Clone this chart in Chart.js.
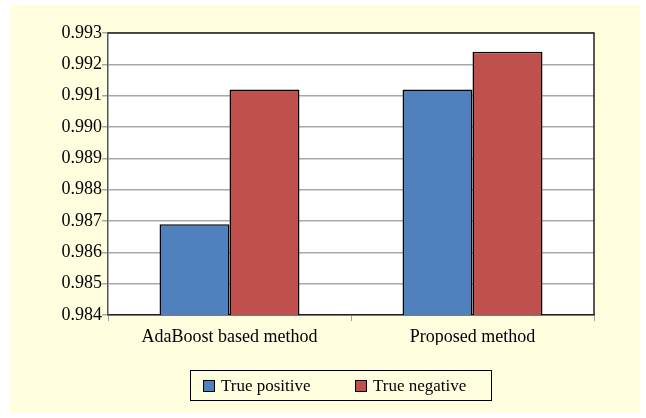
<!DOCTYPE html>
<html>
<head>
<meta charset="UTF-8">
<title>True positive and True negative</title>
<style>
    body { margin: 0; background: #fff; font-family: "Liberation Serif", serif; }
    .wrap { position: relative; width: 646px; height: 418px; }
    .legend {
        position: absolute; left: 190px; top: 370px; width: 302px; height: 31px;
        border: 1px solid #000; box-sizing: border-box;
        font-family: "Liberation Serif", serif; font-size: 17px; color: #000;
    }
    .legend span.item { position: absolute; top: 5px; white-space: nowrap; }
    .legend i {
        display: inline-block; width: 10px; height: 10px; border: 1px solid #000;
        margin-right: 6px; vertical-align: -1px;
    }
</style>
<script src="https://cdn.jsdelivr.net/npm/chart.js"></script>
</head>
<body>
<div class="wrap">
    <canvas id="c" width="646" height="418"></canvas>
    <div class="legend" id="legend"></div>
</div>
<script>
    // data
    const categories = ['AdaBoost based method', 'Proposed method'];
    const truePositive = [0.9869, 0.9912];
    const trueNegative = [0.9912, 0.9924];
    const yMin = 0.984, yMax = 0.993, yStep = 0.001;

    const serif = '"Liberation Serif", serif';
    Chart.defaults.font.family = serif;

    // yellow panel + plot frame
    const decor = {
        id: 'decor',
        beforeDraw(chart) {
            const ctx = chart.ctx;
            ctx.save();
            ctx.fillStyle = '#ffffe0';
            ctx.fillRect(10, 5, 630, 408);
            const a = chart.chartArea;
            ctx.fillStyle = '#fff';
            ctx.fillRect(a.left, a.top, a.right - a.left, a.bottom - a.top);
            ctx.restore();
        },
        afterDraw(chart) {
            const ctx = chart.ctx;
            const a = chart.chartArea;
            ctx.save();
            ctx.strokeStyle = '#222';
            ctx.lineWidth = 1.5;
            ctx.beginPath();
            ctx.moveTo(a.left, a.top);
            ctx.lineTo(a.right, a.top);
            ctx.lineTo(a.right, a.bottom);
            ctx.stroke();
            ctx.restore();
        }
    };

    const chart = new Chart(document.getElementById('c'), {
        type: 'bar',
        data: {
            labels: categories,
            datasets: [
                { label: 'True positive', data: truePositive, backgroundColor: '#4f81bd',
                  borderColor: '#000', borderWidth: 1.5, borderSkipped: false },
                { label: 'True negative', data: trueNegative, backgroundColor: '#c0504d',
                  borderColor: '#000', borderWidth: 1.5, borderSkipped: false }
            ]
        },
        options: {
            responsive: false,
            animation: false,
            layout: { padding: { top: 33, right: 52, bottom: 73, left: 0 } },
            datasets: { bar: { barPercentage: 1, categoryPercentage: 0.576 } },
            plugins: {
                tooltip: { enabled: false },
                legend: { display: false }
            },
            scales: {
                x: {
                    grid: { offset: true, drawOnChartArea: false, tickLength: 6, color: '#a0a0a0' },
                    border: { color: '#222', width: 1.5 },
                    ticks: { font: { family: serif, size: 18 }, color: '#000', padding: 5 },
                    afterFit(s) { s.height = 30; }
                },
                y: {
                    min: yMin, max: yMax,
                    grid: { color: '#a8a8a8', lineWidth: 1.5, tickLength: 6 },
                    border: { color: '#555', width: 1.5 },
                    ticks: {
                        stepSize: yStep,
                        font: { family: serif, size: 18 },
                        color: '#000',
                        padding: 0,
                        callback: v => v.toFixed(3)
                    },
                    afterFit(s) { s.width = 108; }
                }
            }
        },
        plugins: [decor]
    });

    // legend as html, built from the datasets
    const lg = document.getElementById('legend');
    const xs = [12, 164];
    chart.data.datasets.forEach((d, i) => {
        const s = document.createElement('span');
        s.className = 'item';
        s.style.left = xs[i] + 'px';
        s.innerHTML = '<i style="background:' + d.backgroundColor + '"></i>' + d.label;
        lg.appendChild(s);
    });
</script>
</body>
</html>
